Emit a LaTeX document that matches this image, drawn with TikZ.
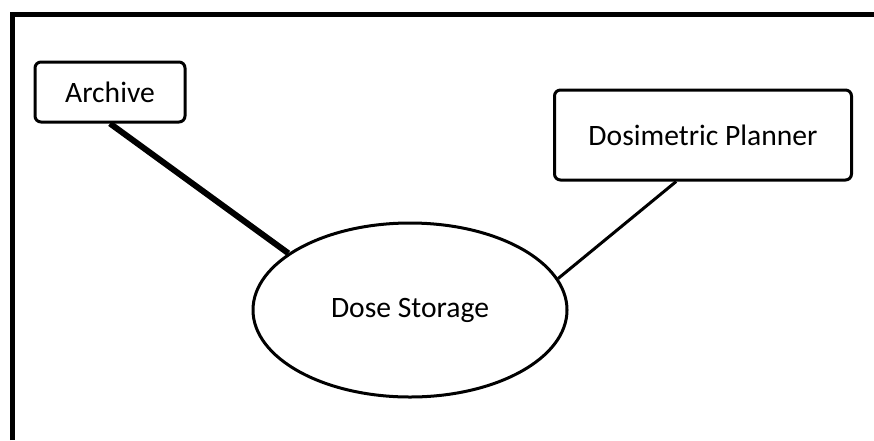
\documentclass[tikz,border=0pt]{standalone}
\usepackage{fontspec}
\setmainfont{Carlito}
\usetikzlibrary{shapes.geometric}

\begin{document}
\begin{tikzpicture}[
    x=1pt, y=-1pt,
    box/.style={draw, line width=3pt, rounded corners=6pt, inner sep=0pt, font=\fontsize{29.6}{34}\selectfont},
    store/.style={ellipse, draw, line width=3pt, inner sep=0pt, minimum width=314pt, minimum height=174pt, font=\fontsize{29.6}{34}\selectfont},
    link/.style={draw, line width=3pt}
]
\useasboundingbox (0,0) rectangle (874,440);

% frame
\draw[line width=5pt] (12,440) -- (12,14) -- (874,14);

% nodes
\node[box, minimum width=150pt, minimum height=60pt] (archive) at (110,92) {Archive};
\node[box, minimum width=297pt, minimum height=90pt] (planner) at (703,135) {Dosimetric Planner};
\node[store] (dose) at (410,310) {Dose Storage};

% connections
\draw[link, line width=6pt] (archive.south) -- (dose.155);
\draw[link] (planner.-120) -- (dose.12);

\end{tikzpicture}
\end{document}
